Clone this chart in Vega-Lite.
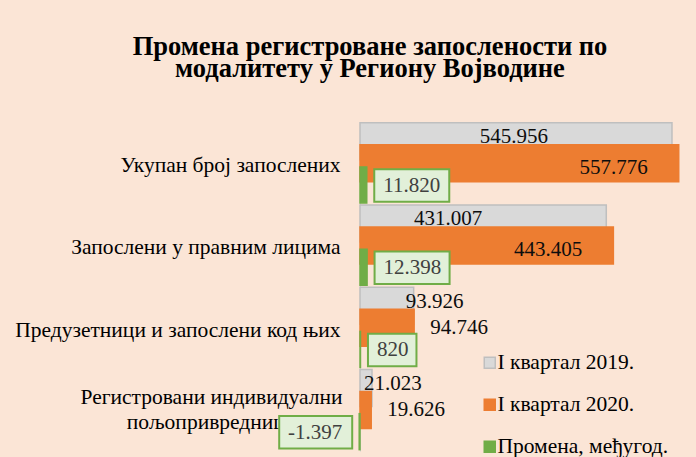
{
  "$schema": "https://vega.github.io/schema/vega-lite/v6.json",
  "width": 320,
  "height": 329,
  "autosize": {"type": "none"},
  "padding": {"left": 360, "top": 122, "right": 16, "bottom": 6},
  "background": "#FBE5D6",
  "title": {
    "text": ["Промена регистроване запослености по", "модалитету у Региону Војводине"],
    "font": "Liberation Serif",
    "fontSize": 26.5,
    "fontWeight": "bold",
    "color": "#000000",
    "lineHeight": 22,
    "anchor": "middle",
    "frame": "group",
    "dx": -150,
    "offset": 40
  },
  "data": {
    "values": [
      {"category": "Укупан број запослених", "series": "I квартал 2019.", "value": 545956},
      {"category": "Укупан број запослених", "series": "I квартал 2020.", "value": 557776},
      {"category": "Укупан број запослених", "series": "Промена, међугод.", "value": 11820},
      {"category": "Запослени у правним лицима", "series": "I квартал 2019.", "value": 431007},
      {"category": "Запослени у правним лицима", "series": "I квартал 2020.", "value": 443405},
      {"category": "Запослени у правним лицима", "series": "Промена, међугод.", "value": 12398},
      {"category": "Предузетници и запослени код њих", "series": "I квартал 2019.", "value": 93926},
      {"category": "Предузетници и запослени код њих", "series": "I квартал 2020.", "value": 94746},
      {"category": "Предузетници и запослени код њих", "series": "Промена, међугод.", "value": 820},
      {"category": "Регистровани индивидуални пољопривредници", "series": "I квартал 2019.", "value": 21023},
      {"category": "Регистровани индивидуални пољопривредници", "series": "I квартал 2020.", "value": 19626},
      {"category": "Регистровани индивидуални пољопривредници", "series": "Промена, међугод.", "value": -1397}
    ]
  },
  "encoding": {
    "y": {
      "field": "category",
      "type": "nominal",
      "sort": null,
      "scale": {
        "domain": ["Укупан број запослених", "Запослени у правним лицима", "Предузетници и запослени код њих", "Регистровани индивидуални пољопривредници"],
        "paddingInner": 0,
        "paddingOuter": 0
      },
      "axis": {
        "title": null,
        "domain": true,
        "domainColor": "#D0D0D0",
        "domainWidth": 1,
        "ticks": false,
        "grid": false,
        "labelFont": "Liberation Serif",
        "labelFontSize": 21.5,
        "labelColor": "#000000",
        "labelPadding": {"condition": {"test": "datum.value == 'Регистровани индивидуални пољопривредници'", "value": 149}, "value": 20},
        "labelAlign": {"condition": {"test": "datum.value == 'Регистровани индивидуални пољопривредници'", "value": "center"}, "value": "right"},
        "labelOffset": {"condition": {"test": "datum.value == 'Регистровани индивидуални пољопривредници'", "value": -12}, "value": 3},
        "labelLimit": 400,
        "labelLineHeight": 25,
        "labelExpr": "datum.value == 'Регистровани индивидуални пољопривредници' ? ['Регистровани индивидуални', 'пољопривредници'] : datum.value"
      }
    },
    "x": {
      "field": "value",
      "type": "quantitative",
      "stack": null,
      "scale": {"domain": [0, 560000], "nice": false},
      "axis": null
    }
  },
  "layer": [
    {
      "transform": [{"filter": "datum.series == 'I квартал 2019.'"}],
      "mark": {"type": "bar", "height": 37, "yOffset": -21.8, "strokeWidth": 1.5},
      "encoding": {
        "color": {
          "field": "series",
          "type": "nominal",
          "scale": {"domain": ["I квартал 2019.", "I квартал 2020.", "Промена, међугод."], "range": ["#D9D9D9", "#ED7D31", "#70AD47"]},
          "legend": {
            "title": null, "orient": "none", "legendX": 119, "legendY": 230, "direction": "vertical",
            "symbolType": "square", "symbolSize": 121, "symbolStrokeWidth": 1.5,
            "labelFont": "Liberation Serif", "labelFontSize": 21.5, "labelColor": "#000000",
            "labelOffset": -3, "rowPadding": 19, "padding": 0, "labelLimit": 300
          }
        },
        "stroke": {
          "field": "series",
          "type": "nominal",
          "scale": {"domain": ["I квартал 2019.", "I квартал 2020.", "Промена, међугод."], "range": ["#BFBFBF", "#ED7D31", "#70AD47"]},
          "legend": {
            "title": null, "orient": "none", "legendX": 119, "legendY": 230, "direction": "vertical",
            "symbolType": "square", "symbolSize": 121, "symbolStrokeWidth": 1.5,
            "labelFont": "Liberation Serif", "labelFontSize": 21.5, "labelColor": "#000000",
            "labelOffset": -3, "rowPadding": 19, "padding": 0, "labelLimit": 300
          }
        }
      }
    },
    {
      "transform": [{"filter": "datum.series == 'I квартал 2019.' && datum.value > 200000"}],
      "mark": {"type": "text", "align": "right", "baseline": "middle", "dx": -124, "dy": -26.3, "font": "Liberation Serif", "fontSize": 21, "color": "#0D0D0D"},
      "encoding": {"text": {"field": "value", "type": "quantitative", "format": ",d"}}
    },
    {
      "transform": [{"filter": "datum.series == 'I квартал 2019.' && datum.value <= 200000"}],
      "mark": {"type": "text", "align": "left", "baseline": "middle", "dx": -8, "dy": -25.8, "font": "Liberation Serif", "fontSize": 21, "color": "#0D0D0D"},
      "encoding": {"text": {"field": "value", "type": "quantitative", "format": ",d"}}
    },
    {
      "transform": [{"filter": "datum.series == 'I квартал 2020.'"}],
      "mark": {"type": "bar", "height": 37, "strokeWidth": 1.5},
      "encoding": {
        "color": {"field": "series", "type": "nominal"},
        "stroke": {"field": "series", "type": "nominal"}
      }
    },
    {
      "transform": [{"filter": "datum.series == 'I квартал 2020.' && datum.value > 200000"}],
      "mark": {"type": "text", "align": "right", "baseline": "middle", "dx": -31, "dy": 5, "font": "Liberation Serif", "fontSize": 21, "color": "#0D0D0D"},
      "encoding": {"text": {"field": "value", "type": "quantitative", "format": ",d"}}
    },
    {
      "transform": [{"filter": "datum.series == 'I квартал 2020.' && datum.value <= 200000"}],
      "mark": {"type": "text", "align": "left", "baseline": "middle", "dx": 16, "dy": 0, "font": "Liberation Serif", "fontSize": 21, "color": "#0D0D0D"},
      "encoding": {"text": {"field": "value", "type": "quantitative", "format": ",d"}}
    },
    {
      "transform": [{"filter": "datum.series == 'Промена, међугод.'"}],
      "mark": {"type": "bar", "height": 36, "yOffset": 21.8, "strokeWidth": 1.5},
      "encoding": {
        "color": {"field": "series", "type": "nominal"},
        "stroke": {"field": "series", "type": "nominal"}
      }
    },
    {
      "transform": [{"filter": "datum.series == 'Промена, међугод.' && datum.value >= 1000"}],
      "mark": {"type": "bar", "height": 32.5, "yOffset": 22.3, "fill": "#E2F0D9", "stroke": "#70AD47", "strokeWidth": 2, "xOffset": 7.5, "x2Offset": 82.5},
      "encoding": {"x2": {"field": "value"}}
    },
    {
      "transform": [{"filter": "datum.series == 'Промена, међугод.' && datum.value > 0 && datum.value < 1000"}],
      "mark": {"type": "bar", "height": 32.5, "yOffset": 22.3, "fill": "#E2F0D9", "stroke": "#70AD47", "strokeWidth": 2, "xOffset": 7.5, "x2Offset": 56},
      "encoding": {"x2": {"field": "value"}}
    },
    {
      "transform": [{"filter": "datum.series == 'Промена, међугод.' && datum.value < 0"}],
      "mark": {"type": "bar", "height": 32.5, "yOffset": 22.3, "fill": "#E2F0D9", "stroke": "#70AD47", "strokeWidth": 2, "xOffset": -80, "x2Offset": -7},
      "encoding": {"x2": {"field": "value"}}
    },
    {
      "transform": [{"filter": "datum.series == 'Промена, међугод.' && datum.value > 0"}],
      "mark": {"type": "text", "align": "left", "baseline": "middle", "dx": 16.5, "dy": 22.8, "font": "Liberation Serif", "fontSize": 21, "color": "#404040"},
      "encoding": {"text": {"field": "value", "type": "quantitative", "format": ",d"}}
    },
    {
      "transform": [{"filter": "datum.series == 'Промена, међугод.' && datum.value < 0"}],
      "mark": {"type": "text", "align": "right", "baseline": "middle", "dx": -17, "dy": 22.8, "font": "Liberation Serif", "fontSize": 21, "color": "#404040"},
      "encoding": {"text": {"field": "value", "type": "quantitative", "format": ",d"}}
    }
  ],
  "config": {
    "view": {"stroke": null},
    "text": {"font": "Liberation Serif"},
    "locale": {"number": {"decimal": ",", "thousands": ".", "grouping": [3], "currency": ["", " дин."], "minus": "-"}}
  }
}
